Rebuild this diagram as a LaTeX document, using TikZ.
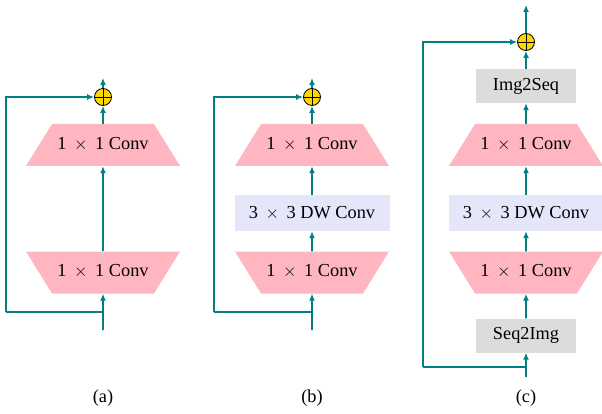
\documentclass[tikz,border=0pt]{standalone}
\usepackage{fontspec}
\setmainfont{Liberation Serif}
\usetikzlibrary{shapes.geometric}
\usetikzlibrary{arrows.meta}

\definecolor{convpink}{RGB}{255,182,193}
\definecolor{dwblue}{RGB}{230,230,250}
\definecolor{seqgray}{RGB}{220,220,220}
\definecolor{flowteal}{RGB}{0,128,128}
\definecolor{addgold}{RGB}{255,215,0}

\newcommand{\blockfont}{\fontsize{18.3}{22}\selectfont}
\newcommand{\bytimes}[1]{#1 \,$\times$\, #1}

\tikzset{
	conv/.style={trapezium, trapezium stretches body, fill=convpink, minimum width=154pt, text height=12.5pt, text depth=4pt, inner xsep=0pt, inner ysep=12.75pt, font=\blockfont},
	convup/.style={conv, trapezium left angle=58.2, trapezium right angle=58.2},
	convdown/.style={conv, trapezium left angle=121.8, trapezium right angle=121.8},
	dwconv/.style={rectangle, fill=dwblue, minimum width=155pt, minimum height=36pt, inner sep=0pt, font=\blockfont},
	seqbox/.style={rectangle, fill=seqgray, minimum width=100pt, minimum height=34pt, inner sep=0pt, font=\blockfont},
	addop/.style={circle, draw=black, fill=addgold, minimum size=17pt, inner sep=0pt, line width=0.8pt},
	flow/.style={draw=flowteal, line width=1.9pt, -{Latex[length=7pt,width=6pt]}},
	skipline/.style={draw=flowteal, line width=1.9pt},
	caption/.style={font=\blockfont}
}

\begin{document}
\begin{tikzpicture}[x=1pt, y=-1pt]

	\useasboundingbox (0,0) rectangle (602,414);

	%%%%% (a) %%%%%
	\coordinate (ina) at (103,330);
	\coordinate (ja) at (103,312); % branch point
	\coordinate (la) at (6,312);
	\coordinate (outa) at (103,78);

	\node[convdown] (c1a) at (103,272.5) {\bytimes{1} Conv};
	\node[convup] (c2a) at (103,145) {\bytimes{1} Conv};
	\node[addop] (adda) at (103,97) {};
	\draw (adda.north) -- (adda.south);
	\draw (adda.west) -- (adda.east);

	\draw[flow] (ina) -- (c1a.south);
	\draw[flow] (c1a.north) -- (c2a.south);
	\draw[flow] (c2a.north) -- (adda.south);
	\draw[flow] (adda.north) -- (outa);
	\draw[skipline] (ja) -- (la);
	\draw[flow] (la) |- (adda.west);

	\node[caption] (capa) at (103,398) {(a)};

	%%%%% (b) %%%%%
	\coordinate (inb) at (312,330);
	\coordinate (jb) at (312,312); % branch point
	\coordinate (lb) at (214,312);
	\coordinate (outb) at (312,78);

	\node[convdown] (c1b) at (312,272.5) {\bytimes{1} Conv};
	\node[dwconv] (dwb) at (312,213) {\bytimes{3} DW Conv};
	\node[convup] (c2b) at (312,145) {\bytimes{1} Conv};
	\node[addop] (addb) at (312,97) {};
	\draw (addb.north) -- (addb.south);
	\draw (addb.west) -- (addb.east);

	\draw[flow] (inb) -- (c1b.south);
	\draw[flow] (c1b.north) -- (dwb.south);
	\draw[flow] (dwb.north) -- (c2b.south);
	\draw[flow] (c2b.north) -- (addb.south);
	\draw[flow] (addb.north) -- (outb);
	\draw[skipline] (jb) -- (lb);
	\draw[flow] (lb) |- (addb.west);

	\node[caption] (capb) at (312,398) {(b)};

	%%%%% (c) %%%%%
	\coordinate (inc) at (526,377);
	\coordinate (jc) at (526,367); % branch point
	\coordinate (lc) at (423,367);
	\coordinate (outc) at (526,5);

	\node[seqbox] (s2i) at (526,335.5) {Seq2Img};
	\node[convdown] (c1c) at (526,272.5) {\bytimes{1} Conv};
	\node[dwconv] (dwc) at (526,213) {\bytimes{3} DW Conv};
	\node[convup] (c2c) at (526,145) {\bytimes{1} Conv};
	\node[seqbox] (i2s) at (526,86) {Img2Seq};
	\node[addop] (addc) at (526,42) {};
	\draw (addc.north) -- (addc.south);
	\draw (addc.west) -- (addc.east);

	\draw[flow] (inc) -- (s2i.south);
	\draw[flow] (s2i.north) -- (c1c.south);
	\draw[flow] (c1c.north) -- (dwc.south);
	\draw[flow] (dwc.north) -- (c2c.south);
	\draw[flow] (c2c.north) -- (i2s.south);
	\draw[flow] (i2s.north) -- (addc.south);
	\draw[flow] (addc.north) -- (outc);
	\draw[skipline] (jc) -- (lc);
	\draw[flow] (lc) |- (addc.west);

	\node[caption] (capc) at (526,398) {(c)};

\end{tikzpicture}
\end{document}
